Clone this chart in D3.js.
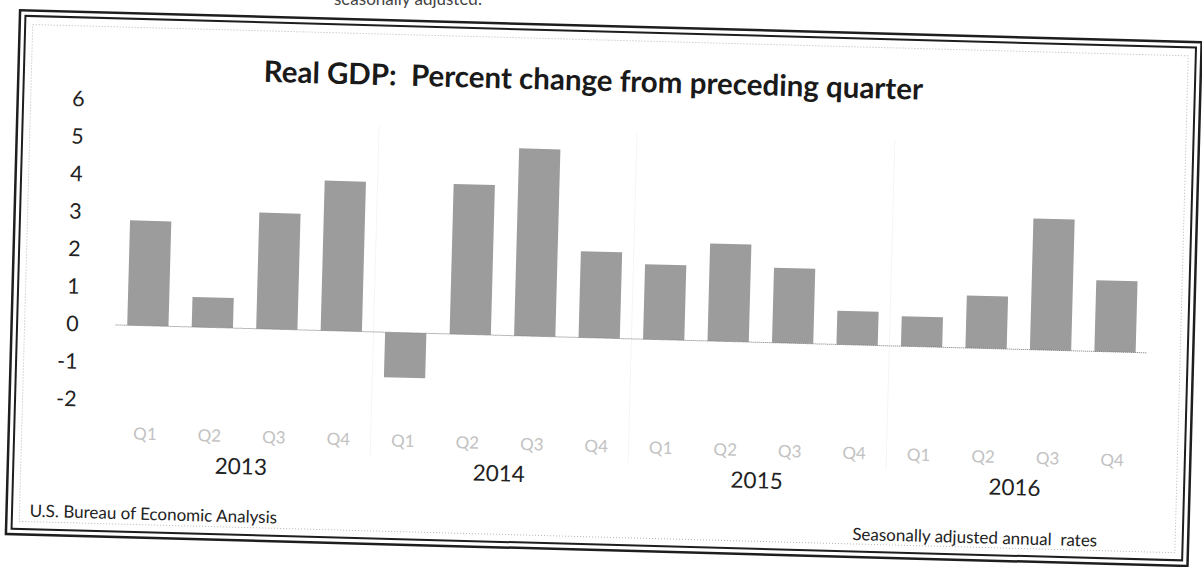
<!DOCTYPE html>
<html>
<head>
<meta charset="utf-8">
<script src="https://cdn.jsdelivr.net/npm/d3@7"></script>
<style>
  body { margin: 0; background: #fff; }
  svg { display: block; }
  text { font-family: Lato, "Open Sans", sans-serif; }
</style>
</head>
<body>
<div id="vis"></div>
<script>
// real GDP, percent change from preceding quarter (SAAR)
var years = ['2013', '2014', '2015', '2016'];
var quarters = ['Q1', 'Q2', 'Q3', 'Q4'];
var gdpChange = [2.8, 0.8, 3.1, 4.0, -1.2, 4.0, 5.0, 2.3, 2.0, 2.6, 2.0, 0.9, 0.8, 1.4, 3.5, 1.9];
var yTicks = [-2, -1, 0, 1, 2, 3, 4, 5, 6];
var titleText = 'Real GDP:  Percent change from preceding quarter';
var sourceText = 'U.S. Bureau of Economic Analysis';
var noteText = 'Seasonally adjusted annual  rates';

var width = 1202, height = 567;

var svg = d3.select('#vis').append('svg')
  .attr('width', width)
  .attr('height', height);

// bit of page text cut off by the top of the scan
svg.append('text')
  .attr('x', 334).attr('y', 5)
  .style('font-size', '17px').style('fill', '#444')
  .text('seasonally adjusted.');

// the scanned page is slightly tilted
var g = svg.append('g')
  .attr('transform', 'rotate(1.55, 600, 280)');

// double frame + dotted chart-area border
g.append('rect')
  .attr('x', 13).attr('y', 26).attr('width', 1182).attr('height', 524)
  .attr('fill', 'none').attr('stroke', '#1e1e1e').attr('stroke-width', 2.5);
g.append('rect')
  .attr('x', 18.5).attr('y', 31.5).attr('width', 1171).attr('height', 513)
  .attr('fill', 'none').attr('stroke', '#1e1e1e').attr('stroke-width', 2);
g.append('rect')
  .attr('x', 26).attr('y', 40).attr('width', 1156).attr('height', 497)
  .attr('fill', 'none').attr('stroke', '#b5b5b5').attr('stroke-width', 1)
  .attr('stroke-dasharray', '1,2');

var x = d3.scaleBand()
  .domain(d3.range(gdpChange.length))
  .range([117, 1149])
  .paddingInner(0.36)
  .paddingOuter(0.18);

var y = d3.scaleLinear()
  .domain([-2, 6])
  .range([413, 113]);

// faint separators between years
g.append('g').selectAll('line')
  .data(d3.range(1, years.length))
  .enter().append('line')
  .attr('x1', function(d) { return x.range()[0] + x.step() * 4 * d; })
  .attr('x2', function(d) { return x.range()[0] + x.step() * 4 * d; })
  .attr('y1', y(5.5))
  .attr('y2', 462)
  .attr('stroke', '#f5f5f5');

g.append('text')
  .attr('x', 588).attr('y', 91)
  .attr('text-anchor', 'middle')
  .style('white-space', 'pre')
  .style('font-size', '29.5px').style('font-weight', 'bold').style('fill', '#1a1a1a')
  .text(titleText);

// y axis: labels only, plain hyphen for negatives
var yAxis = g.append('g')
  .attr('transform', 'translate(80,0)')
  .call(d3.axisLeft(y).tickValues(yTicks).tickSize(0).tickPadding(0)
    .tickFormat(function(d) { return String(d); }));
yAxis.select('.domain').remove();
yAxis.selectAll('text')
  .style('font-family', 'Lato, sans-serif')
  .style('font-size', '21.5px').style('fill', '#222');

g.append('g').selectAll('rect')
  .data(gdpChange)
  .enter().append('rect')
  .attr('x', function(d, i) { return x(i); })
  .attr('y', function(d) { return y(Math.max(0, d)); })
  .attr('width', x.bandwidth())
  .attr('height', function(d) { return Math.abs(y(d) - y(0)); })
  .attr('fill', '#9c9c9c');

// dotted zero line
g.append('line')
  .attr('x1', x.range()[0]).attr('x2', x.range()[1])
  .attr('y1', y(0)).attr('y2', y(0))
  .attr('stroke', '#777').attr('stroke-dasharray', '1,1');

// quarter labels
var xAxis = g.append('g')
  .attr('transform', 'translate(0,432)')
  .call(d3.axisBottom(x).tickSize(0).tickPadding(8)
    .tickFormat(function(i) { return quarters[i % 4]; }));
xAxis.select('.domain').remove();
xAxis.selectAll('text')
  .style('font-family', 'Lato, sans-serif')
  .style('font-size', '17px').style('fill', '#c2c2c2');

// year labels centred under each group of four
g.append('g').selectAll('text')
  .data(years)
  .enter().append('text')
  .attr('x', function(d, k) { return (x(4 * k) + x(4 * k + 3) + x.bandwidth()) / 2; })
  .attr('y', 484)
  .attr('text-anchor', 'middle')
  .style('font-size', '22.5px').style('fill', '#222')
  .text(function(d) { return d; });

g.append('text')
  .attr('x', 36).attr('y', 532)
  .style('font-size', '17px').style('fill', '#222')
  .text(sourceText);

g.append('text')
  .attr('x', 1104).attr('y', 533)
  .attr('text-anchor', 'end')
  .style('white-space', 'pre')
  .style('font-size', '17px').style('fill', '#222')
  .text(noteText);
</script>
</body>
</html>
